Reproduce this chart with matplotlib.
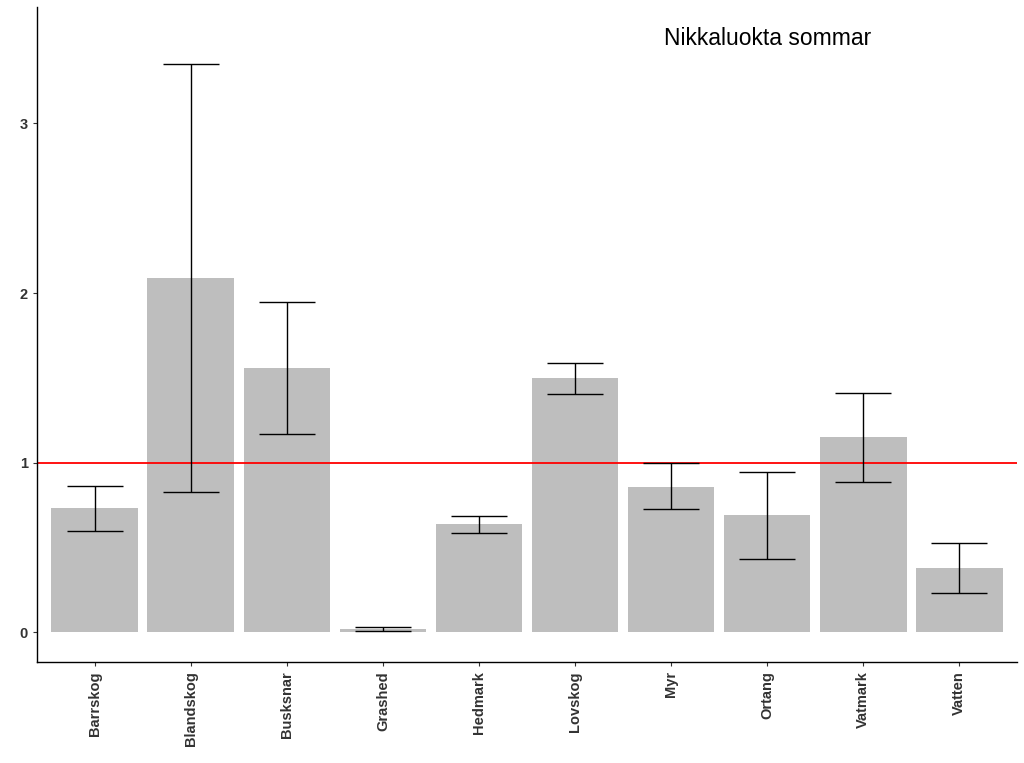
import matplotlib
matplotlib.use("Agg")
import matplotlib.pyplot as plt
import numpy as np

plt.rcParams['font.family'] = ['Liberation Sans', 'DejaVu Sans']

categories = ['Barrskog', 'Blandskog', 'Busksnar', 'Grashed', 'Hedmark',
              'Lovskog', 'Myr', 'Ortang', 'Vatmark', 'Vatten']
values = [0.735, 2.088, 1.559, 0.018, 0.641, 1.500, 0.859, 0.694, 1.153, 0.382]
err_low = [0.600, 0.829, 1.171, 0.006, 0.588, 1.406, 0.729, 0.435, 0.888, 0.235]
err_high = [0.865, 3.347, 1.947, 0.035, 0.688, 1.588, 1.000, 0.947, 1.412, 0.529]

fig = plt.figure(figsize=(10.24, 7.63), dpi=100)
ax = fig.add_axes([37/1024, 1 - 662/763, (1017 - 37)/1024, (662 - 7)/763])

x = np.arange(1, len(categories) + 1)
ax.bar(x, values, width=0.9, color='#BEBEBE', zorder=1)
ax.axhline(1, color='#FF0000', linewidth=1.3, zorder=2)
v = np.array(values)
yerr = [v - np.array(err_low), np.array(err_high) - v]
ax.errorbar(x, v, yerr=yerr, fmt='none', ecolor='black', elinewidth=1.0,
            capsize=20.5, capthick=1.0, zorder=3)

ax.set_xlim(0.4, 10.6)
ax.set_ylim(-0.174, 3.685)
ax.set_yticks([0, 1, 2, 3])
ax.set_xticks(x)
ax.set_xticklabels(categories, rotation=90, fontweight='bold', fontsize=10.5, color='#333333')
for lab in ax.get_yticklabels():
    lab.set_fontweight('bold')
    lab.set_color('#333333')
    lab.set_fontsize(10.5)
ax.tick_params(axis='both', length=3, width=0.8, color='#333333')
for s in ['top', 'right']:
    ax.spines[s].set_visible(False)
for s in ['left', 'bottom']:
    ax.spines[s].set_linewidth(1.0)

ax.text(8.0, 3.50, 'Nikkaluokta sommar', fontsize=16.5, ha='center', va='center')

fig.savefig('out.png', dpi=100)
